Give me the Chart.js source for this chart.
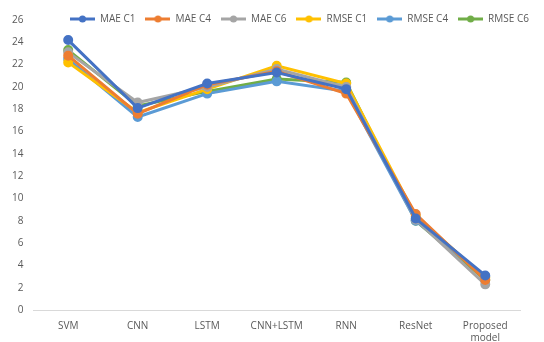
<!DOCTYPE html>
<html>
<head>
<meta charset="utf-8">
<script src="https://cdn.jsdelivr.net/npm/chart.js@4/dist/chart.umd.min.js"></script>
<style>
  html, body { margin: 0; padding: 0; background: #fff; }
  #wrap { width: 544px; height: 342px; }
</style>
</head>
<body>
<div id="wrap"><canvas id="errorChart"></canvas></div>
<script>
const models = ['SVM', 'CNN', 'LSTM', 'CNN+LSTM', 'RNN', 'ResNet', ['Proposed', 'model']];
const yTicks = [0, 2, 4, 6, 8, 10, 12, 14, 16, 18, 20, 22, 24, 26];

const maeC1 = [24.2, 18.1, 20.3, 21.3, 19.8, 8.2, 3.1];
const maeC4 = [22.8, 17.6, 20.2, 21.4, 19.4, 8.6, 2.7];
const maeC6 = [23.1, 18.6, 20.0, 21.6, 20.0, 8.1, 2.3];
const rmseC1 = [22.2, 17.7, 19.8, 21.9, 20.3, 8.4, 2.9];
const rmseC4 = [22.5, 17.3, 19.4, 20.5, 19.6, 8.0, 3.0];
const rmseC6 = [23.3, 18.3, 19.6, 20.7, 20.4, 8.0, 2.7];

const seriesNames = ['MAE C1', 'MAE C4', 'MAE C6', 'RMSE C1', 'RMSE C4', 'RMSE C6'];
const seriesData = [maeC1, maeC4, maeC6, rmseC1, rmseC4, rmseC6];
const colors = ['#4472C4', '#ED7D31', '#A5A5A5', '#FFC000', '#5B9BD5', '#70AD47'];

// legend marker: short line with a dot in the middle
function legendMarker(color) {
  const c = document.createElement('canvas');
  c.width = 25; c.height = 10;
  const ctx = c.getContext('2d');
  ctx.strokeStyle = color;
  ctx.lineWidth = 3;
  ctx.beginPath();
  ctx.moveTo(0, 5); ctx.lineTo(25, 5);
  ctx.stroke();
  ctx.fillStyle = color;
  ctx.beginPath();
  ctx.arc(12.5, 5, 3.5, 0, Math.PI * 2);
  ctx.fill();
  return c;
}

// let the legend sit over the top of the plot like the original:
// it takes little layout space, starts at x=60 and runs off the right edge
const thinLegend = {
  id: 'thinLegend',
  beforeLayout(chart) {
    const legend = chart.legend;
    if (!legend || legend._thin) return;
    const fit = legend.fit;
    const draw = legend.draw;
    legend.fit = function () {
      fit.call(this);
      this._realHeight = this.height;
      this.height = 16;
    };
    legend.draw = function () {
      const box = { left: this.left, right: this.right, bottom: this.bottom };
      this.bottom = this.top + this._realHeight;
      this.left = 60;
      this.right = chart.width + 100;
      draw.call(this);
      Object.assign(this, box);
    };
    legend._thin = true;
  }
};

new Chart(document.getElementById('errorChart'), {
  type: 'line',
  data: {
    labels: models,
    datasets: seriesNames.map((name, i) => ({
      label: name,
      data: seriesData[i],
      borderColor: colors[i],
      backgroundColor: colors[i],
      borderWidth: 3,
      pointRadius: 3.5,
      pointHoverRadius: 3.5,
      pointStyle: 'circle',
      tension: 0
    }))
  },
  options: {
    responsive: true,
    maintainAspectRatio: false,
    animation: false,
    layout: { padding: { top: 4, right: 24, left: 2, bottom: -12 } },
    plugins: {
      legend: {
        position: 'top',
        align: 'start',
        labels: {
          usePointStyle: true,
          pointStyleWidth: 25,
          boxWidth: 25,
          boxHeight: 10,
          padding: 10,
          color: '#595959',
          font: { family: 'Open Sans', size: 10 },
          generateLabels(chart) {
            return chart.data.datasets.map((ds, i) => ({
              text: ds.label,
              pointStyle: legendMarker(colors[i]),
              fillStyle: colors[i],
              strokeStyle: colors[i],
              fontColor: '#595959',
              lineWidth: 0,
              datasetIndex: i
            }));
          }
        }
      },
      tooltip: { enabled: false }
    },
    scales: {
      x: {
        offset: true,
        grid: { display: false, drawTicks: false },
        border: { display: true, color: '#D9D9D9', width: 1 },
        ticks: {
          color: '#595959',
          padding: 10,
          maxRotation: 0,
          autoSkip: false,
          font: { family: 'Open Sans', size: 10 }
        }
      },
      y: {
        min: 0,
        max: 26,
        afterBuildTicks(axis) {
          axis.ticks = yTicks.map(v => ({ value: v }));
        },
        grid: { display: false, drawTicks: false },
        border: { display: false },
        ticks: {
          color: '#595959',
          padding: 10,
          font: { family: 'Open Sans', size: 10 }
        }
      }
    }
  },
  plugins: [thinLegend]
});
</script>
</body>
</html>
